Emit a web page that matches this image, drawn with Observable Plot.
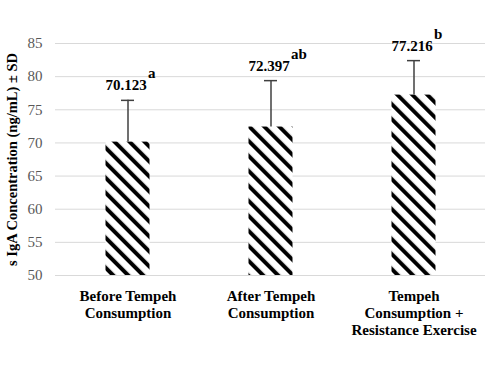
<!DOCTYPE html>
<html>
<head>
<meta charset="utf-8">
<script src="https://cdn.jsdelivr.net/npm/d3@7"></script>
<script src="https://cdn.jsdelivr.net/npm/@observablehq/plot@0.6"></script>
<style>
  html, body { margin: 0; padding: 0; background: #fff; }
  #chart { width: 490px; height: 370px; }
  #chart svg, #chart svg text { font-family: "Liberation Serif", "Times New Roman", serif; }
</style>
</head>
<body>
<div id="chart"></div>
<script>
const categories = ["Before Tempeh Consumption", "After Tempeh Consumption", "Tempeh Consumption + Resistance Exercise"];
const categoryLabels = ["Before Tempeh\nConsumption", "After Tempeh\nConsumption", "Tempeh\nConsumption +\nResistance Exercise"];
const means = [70.123, 72.397, 77.216];
const sds = [6.3, 7.0, 5.2];
const letters = ["a", "ab", "b"];
const yTicks = [50, 55, 60, 65, 70, 75, 80, 85];
const yTitle = "s IgA Concentration (ng/mL) ± SD";

const data = categories.map((c, i) => ({cat: c, label: categoryLabels[i], mean: means[i], sd: sds[i], letter: letters[i]}));
const font = "Liberation Serif";

const chart = Plot.plot({
  width: 490,
  height: 370,
  marginTop: 43,
  marginBottom: 95,
  marginLeft: 55,
  marginRight: 5,
  style: {fontFamily: font, background: "#fff", color: "#000"},
  x: {domain: categories, padding: 0, axis: null},
  y: {domain: [50, 85], axis: null},
  marks: [
    Plot.gridY(yTicks, {stroke: "#d9d9d9", strokeOpacity: 1, strokeWidth: 1}),
    Plot.axisY({ticks: yTicks, tickSize: 0, tickPadding: 13, label: null, fontSize: 15, fontFamily: font, color: "#595959"}),
    Plot.barY(data, {x: "cat", y1: 50, y2: "mean", fill: "url(#diag)", insetLeft: 49.5, insetRight: 49.5}),
    Plot.ruleX(data, {x: "cat", y1: "mean", y2: d => d.mean + d.sd, stroke: "#404040", strokeWidth: 1.5}),
    Plot.tickY(data, {x: "cat", y: d => d.mean + d.sd, stroke: "#404040", strokeWidth: 1.5, insetLeft: 65, insetRight: 65}),
    Plot.text(data, {x: "cat", y: d => d.mean + d.sd, text: d => d.mean.toFixed(3), dx: -2, dy: -10, lineAnchor: "bottom", fontSize: 15, fontFamily: font, fontWeight: "bold", fill: "#000"}),
    Plot.text(data, {x: "cat", y: d => d.mean + d.sd, text: "letter", textAnchor: "start", dx: 20, dy: -22, lineAnchor: "bottom", fontSize: 15, fontFamily: font, fontWeight: "bold", fill: "#000"}),
    Plot.text(data, {x: "cat", text: "label", frameAnchor: "bottom", lineAnchor: "top", dy: 13, lineHeight: 1.15, fontSize: 15, fontFamily: font, fontWeight: "bold", fill: "#000"}),
    Plot.text([yTitle], {text: d => d, frameAnchor: "left", textAnchor: "middle", rotate: -90, dx: -43, fontSize: 14.5, fontFamily: font, fontWeight: "bold", fill: "#000"})
  ]
});

const ns = "http://www.w3.org/2000/svg";
const defs = document.createElementNS(ns, "defs");
const pat = document.createElementNS(ns, "pattern");
pat.setAttribute("id", "diag");
pat.setAttribute("patternUnits", "userSpaceOnUse");
pat.setAttribute("width", "10.6");
pat.setAttribute("height", "10.6");
pat.setAttribute("patternTransform", "rotate(-45)");
const bg = document.createElementNS(ns, "rect");
bg.setAttribute("width", "10.6"); bg.setAttribute("height", "10.6"); bg.setAttribute("fill", "#fff");
const stripe = document.createElementNS(ns, "rect");
stripe.setAttribute("width", "4"); stripe.setAttribute("height", "10.6"); stripe.setAttribute("fill", "#000");
pat.appendChild(bg); pat.appendChild(stripe);
defs.appendChild(pat);
chart.insertBefore(defs, chart.firstChild);

document.getElementById("chart").appendChild(chart);
</script>
</body>
</html>
